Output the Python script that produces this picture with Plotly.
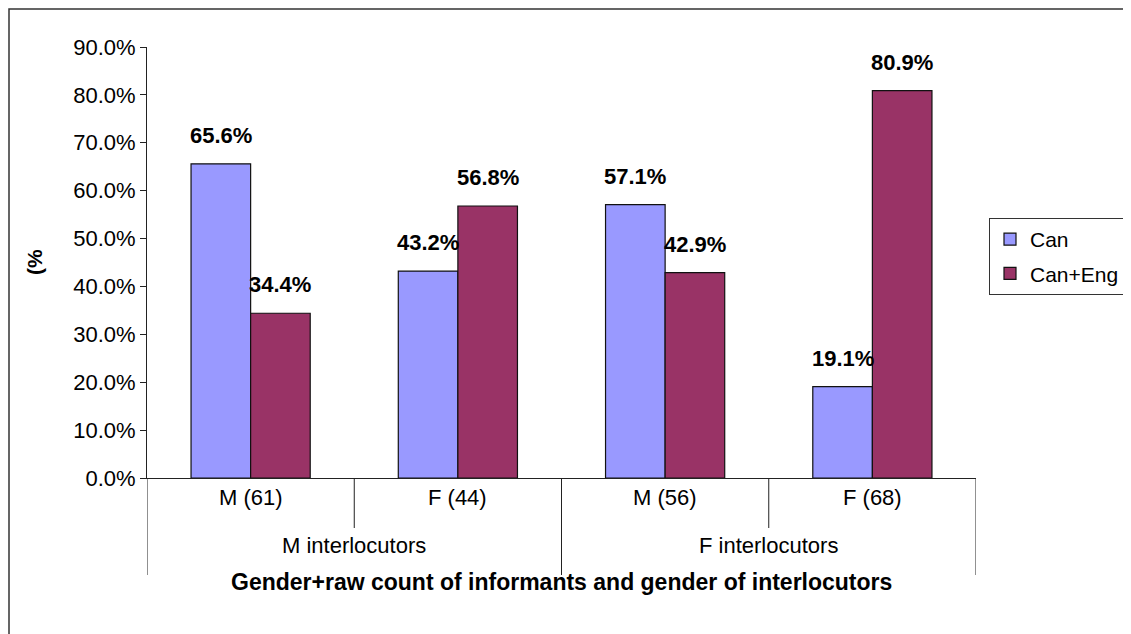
import plotly.graph_objects as go

# categories (informant gender + raw count) grouped by interlocutor gender
subcats = ["M (61)", "F (44)", "M (56)", "F (68)"]
groups = ["M interlocutors", "F interlocutors"]
series_names = ["Can", "Can+Eng"]
can_values = [65.6, 43.2, 57.1, 19.1]
can_eng_values = [34.4, 56.8, 42.9, 80.9]
y_ticks = [0, 10, 20, 30, 40, 50, 60, 70, 80, 90]
y_tick_text = [f"{v:.1f}%" for v in y_ticks]

colors = ["#9999FF", "#993366"]
font_family = "Liberation Sans, Arial, sans-serif"
line_color = "#222222"

# the page body adds an 8px margin, so the figure is laid out 8px smaller
PAGE_OFF = 8
W, H = 1131 - PAGE_OFF, 634 - PAGE_OFF
# plot area in page pixels: x 147..976, y 47..478
L, T = 147 - PAGE_OFF, 47 - PAGE_OFF
R = W - (976 - PAGE_OFF)
B = H - (478 - PAGE_OFF)
plot_w = W - L - R
plot_h = H - T - B


def py_to_paper(py):
    """page pixel row -> paper y coordinate"""
    return (478 - py) / plot_h


def px_to_paper(px):
    """page pixel column -> paper x coordinate"""
    return (px - 147) / plot_w


bargap = 0.425
bar_w = (1 - bargap) / 2
x_pos = list(range(len(subcats)))

fig = go.Figure()
for k, (name, vals) in enumerate(zip(series_names, [can_values, can_eng_values])):
    fig.add_trace(go.Bar(
        x=x_pos,
        y=vals,
        name=name,
        legendgroup=name,
        marker=dict(color=colors[k], line=dict(color="#111111", width=1.2)),
        hoverinfo="skip",
    ))
    # bold value labels above each bar
    offset = (k - 0.5) * bar_w
    for x, v in zip(x_pos, vals):
        fig.add_annotation(
            x=x + offset, y=v, xref="x", yref="y",
            text=f"<b>{v:.1f}%</b>", showarrow=False,
            yanchor="bottom", yshift=14,
            font=dict(size=22, color="black", family=font_family),
        )

# sub-category labels
for x, label in zip(x_pos, subcats):
    fig.add_annotation(
        x=x, y=py_to_paper(512), xref="x", yref="paper",
        text=label, showarrow=False,
        font=dict(size=22, color="black", family=font_family),
    )

# group labels
per_group = len(subcats) // len(groups)
for g, label in enumerate(groups):
    fig.add_annotation(
        x=g * per_group + (per_group - 1) / 2, y=py_to_paper(560),
        xref="x", yref="paper",
        text=label, showarrow=False,
        font=dict(size=22, color="black", family=font_family),
    )

# divider lines of the two-level category axis
for i in range(len(subcats) + 1):
    boundary = i - 0.5
    full = i % per_group == 0
    fig.add_shape(
        type="line", xref="x", yref="paper",
        x0=boundary, x1=boundary,
        y0=0, y1=py_to_paper(575 if full else 528),
        line=dict(color=line_color, width=1),
    )

# x axis title
fig.add_annotation(
    x=0.5, y=py_to_paper(597), xref="paper", yref="paper",
    text="<b>Gender+raw count of informants and gender of interlocutors</b>",
    showarrow=False,
    font=dict(size=23, color="black", family=font_family),
)

# y axis title
fig.add_annotation(
    x=px_to_paper(34), y=py_to_paper(262), xref="paper", yref="paper",
    xanchor="center",
    text="<b>(%</b>", showarrow=False, textangle=-90,
    font=dict(size=21, color="black", family=font_family),
)

# chart border (top and left visible), as close to the page corner as possible
fig.add_shape(
    type="rect", xref="paper", yref="paper",
    x0=px_to_paper(PAGE_OFF + 1), x1=1.3,
    y0=-0.6, y1=py_to_paper(PAGE_OFF + 1),
    line=dict(color="#333333", width=1.5),
)

fig.update_layout(
    width=W, height=H,
    margin=dict(l=L, r=R, t=T, b=B, autoexpand=False),
    paper_bgcolor="white",
    plot_bgcolor="white",
    barmode="group",
    bargap=bargap,
    bargroupgap=0,
    font=dict(family=font_family, size=19, color="black"),
    showlegend=True,
    legend=dict(
        x=px_to_paper(989), y=py_to_paper(218),
        xanchor="left", yanchor="top",
        bordercolor="#333333", borderwidth=1,
        bgcolor="white",
        itemwidth=30,
        traceorder="grouped",
        tracegroupgap=4,
        font=dict(size=21, family=font_family),
    ),
)

fig.update_xaxes(
    range=[-0.5, len(subcats) - 0.5],
    showticklabels=False,
    showgrid=False, zeroline=False,
    showline=True, linecolor=line_color, linewidth=1,
    ticks="",
)
fig.update_yaxes(
    range=[0, 90],
    tickvals=y_ticks,
    ticktext=y_tick_text,
    showgrid=False, zeroline=False,
    showline=True, linecolor=line_color, linewidth=1,
    ticks="outside", ticklen=6, tickcolor=line_color,
    tickfont=dict(size=22, family=font_family),
)

fig.write_html("out.html")
